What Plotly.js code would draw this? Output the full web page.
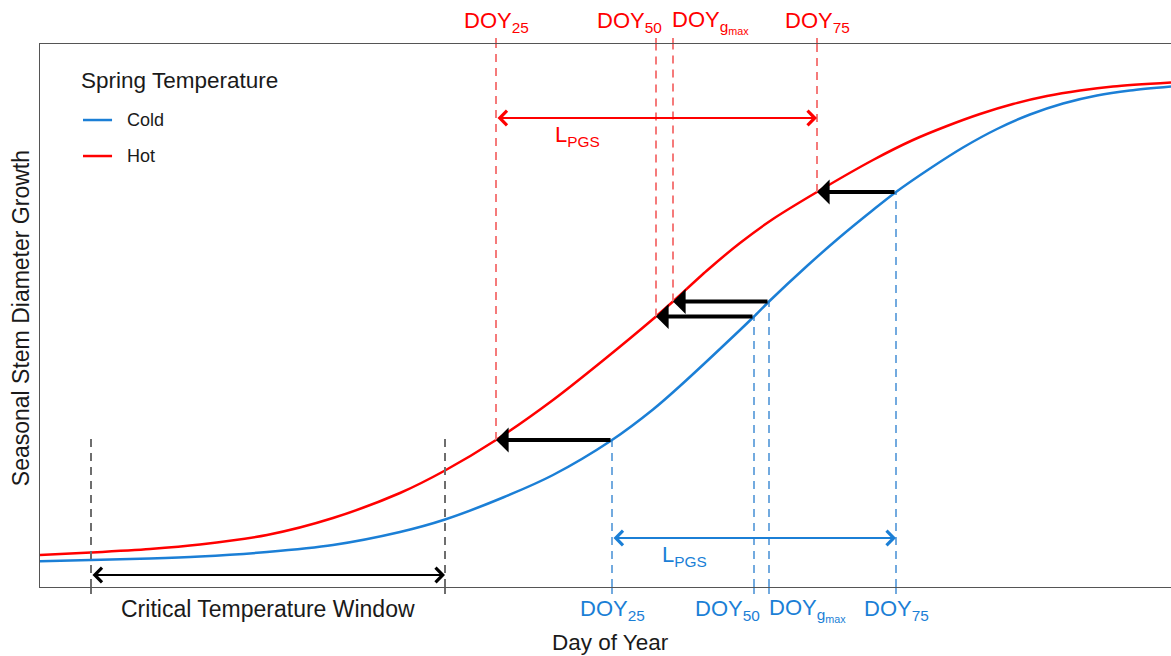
<!DOCTYPE html>
<html><head><meta charset="utf-8">
<script src="https://cdn.plot.ly/plotly-3.0.1.min.js"></script>
<style>html,body{margin:0;padding:0;background:#fff;overflow:hidden}#chart{width:1171px;height:656px}</style>
</head><body><div id="chart"></div>
<script>
// ---- data (arbitrary units) ----
const seriesNames = ['Cold', 'Hot'];
const legendTitle = 'Spring Temperature';
const coldX = [0, 51, 110, 160, 227, 293, 360, 405, 463, 513, 572, 613, 640, 700, 714, 729, 767, 800, 833, 856, 890, 923, 957, 990, 1023, 1057, 1090, 1131];
const coldY = [25.8, 27, 28.5, 30.5, 35, 42, 55, 67.5, 89.5, 112, 147, 177.5, 201, 257, 270.5, 285.5, 321, 350, 377, 395, 418.5, 439.5, 458, 472.5, 483.5, 491.5, 496.5, 500.5];
const hotX = [0, 51, 110, 160, 227, 293, 360, 405, 456, 513, 563, 616, 633, 667, 700, 733, 777, 833, 873, 907, 940, 973, 1007, 1040, 1073, 1131];
const hotY = [32, 34.5, 38, 42.5, 52, 69, 94, 116.5, 147, 187, 226.5, 270.5, 285.5, 316.5, 344, 368, 395, 427, 447, 461, 473, 483, 491, 496.5, 500.5, 504.5];
const doyLabels = ['DOY<sub>25</sub>', 'DOY<sub>50</sub>', 'DOY<sub>g<sub>max</sub></sub>', 'DOY<sub>75</sub>'];
const hotDOY = [456, 616, 633, 777];
const coldDOY = [572, 714, 729, 856];
const doyGrowth = [147, 270.5, 285.5, 395];
const windowX = [51, 405];
const windowTop = 150;
const windowLabel = 'Critical Temperature Window';
const lpgsLabel = 'L<sub>PGS</sub>';

// ---- styles ----
const RED = '#ff0000', BLUE = '#1b7fd6';
const RED_DASH = '#f57a7a', BLUE_DASH = '#72aadf', GRAY = '#6e6e6e';
const FONT = 'Liberation Sans, Arial, Helvetica, sans-serif';
const XMAX = 1131, YMAX = 543;

function vSegments(xs, y0s, y1s) {
  const x = [], y = [];
  xs.forEach((v, i) => { x.push(v, v, null); y.push(y0s[i], y1s[i], null); });
  return {x, y};
}
const redV = vSegments(hotDOY, doyGrowth, hotDOY.map(() => YMAX));
const blueV = vSegments(coldDOY, coldDOY.map(() => 0), doyGrowth);
const grayV = vSegments(windowX, windowX.map(() => 0), windowX.map(() => windowTop));

const traces = [
  {x: redV.x, y: redV.y, xaxis: 'x2', mode: 'lines', line: {color: RED_DASH, width: 2, dash: '8px,6px'}, hoverinfo: 'skip', showlegend: false},
  {x: blueV.x, y: blueV.y, mode: 'lines', line: {color: BLUE_DASH, width: 2, dash: '8px,6px'}, hoverinfo: 'skip', showlegend: false},
  {x: grayV.x, y: grayV.y, xaxis: 'x3', mode: 'lines', line: {color: GRAY, width: 2, dash: '8px,6px'}, hoverinfo: 'skip', showlegend: false},
  {x: coldX, y: coldY, name: seriesNames[0], mode: 'lines', line: {color: BLUE, width: 2.5, shape: 'spline', smoothing: 0.8}, showlegend: false},
  {x: hotX, y: hotY, name: seriesNames[1], mode: 'lines', line: {color: RED, width: 2.5, shape: 'spline', smoothing: 0.8}, showlegend: false}
];

const ann = [];
const shifts = [0, -27, 37, 0];
doyLabels.forEach((t, i) => {
  ann.push({text: t, x: hotDOY[i], xref: 'x', y: 1.04, yref: 'paper', xanchor: 'center', yanchor: 'middle', xshift: shifts[i], showarrow: false, font: {family: FONT, size: 22, color: RED}});
  ann.push({text: t, x: coldDOY[i], xref: 'x', y: -0.042, yref: 'paper', xanchor: 'center', yanchor: 'middle', xshift: shifts[i] + (i === 2 ? 1 : 0), showarrow: false, font: {family: FONT, size: 22, color: BLUE}});
});
// shift arrows (cold -> hot)
doyGrowth.forEach((g, i) => {
  ann.push({text: '', x: hotDOY[i], y: g, xref: 'x', yref: 'y', ax: coldDOY[i], ay: g, axref: 'x', ayref: 'y', showarrow: true, arrowhead: 1, arrowsize: 1.05, arrowwidth: 4, arrowcolor: '#000', standoff: 0});
});
// double arrows
function dbl(x0, x1, y, color) {
  return {text: '', x: x1, y: y, xref: 'x', yref: 'y', ax: x0, ay: y, axref: 'x', ayref: 'y', showarrow: true, arrowside: 'end+start', arrowhead: 4, startarrowhead: 4, arrowsize: 1.4, startarrowsize: 1.4, arrowwidth: 2, arrowcolor: color, standoff: 0, startstandoff: 0};
}
ann.push(dbl(hotDOY[0], hotDOY[3], 469, RED));
ann.push(dbl(coldDOY[0], coldDOY[3], 49, BLUE));
ann.push(dbl(windowX[0], windowX[1], 12, '#000'));
ann.push({text: lpgsLabel, x: 537, y: 451, xref: 'x', yref: 'y', showarrow: false, font: {family: FONT, size: 22, color: RED}});
ann.push({text: lpgsLabel, x: 644, y: 31, xref: 'x', yref: 'y', showarrow: false, font: {family: FONT, size: 22, color: BLUE}});
ann.push({text: windowLabel, x: (windowX[0] + windowX[1]) / 2, xref: 'x', y: -0.04, yref: 'paper', yanchor: 'middle', showarrow: false, font: {family: FONT, size: 23, color: '#1a1a1a'}});
ann.push({text: 'Day of Year', x: 570, xref: 'x', y: -0.103, yref: 'paper', yanchor: 'middle', showarrow: false, font: {family: FONT, size: 22.5, color: '#1a1a1a'}});
ann.push({text: 'Seasonal Stem Diameter Growth', x: -0.0168, xref: 'paper', y: 0.495, yref: 'paper', textangle: -90, xanchor: 'center', yanchor: 'middle', showarrow: false, font: {family: FONT, size: 23, color: '#1a1a1a'}});
// legend
ann.push({text: legendTitle, x: 0.0345, xref: 'paper', y: 0.9337, yref: 'paper', xanchor: 'left', yanchor: 'middle', showarrow: false, font: {family: FONT, size: 22.5, color: '#1a1a1a'}});
ann.push({text: seriesNames[0], x: 0.0755, xref: 'paper', y: 0.860, yref: 'paper', xanchor: 'left', yanchor: 'middle', showarrow: false, font: {family: FONT, size: 18, color: '#1a1a1a'}});
ann.push({text: seriesNames[1], x: 0.0755, xref: 'paper', y: 0.7937, yref: 'paper', xanchor: 'left', yanchor: 'middle', showarrow: false, font: {family: FONT, size: 18, color: '#1a1a1a'}});

const shapes = [
  {type: 'line', xref: 'paper', yref: 'paper', x0: 0.038, x1: 0.0637, y0: 0.860, y1: 0.860, line: {color: BLUE, width: 2.5}},
  {type: 'line', xref: 'paper', yref: 'paper', x0: 0.038, x1: 0.0637, y0: 0.7937, y1: 0.7937, line: {color: RED, width: 2.5}}
];

const axBase = {range: [0, XMAX], showgrid: false, zeroline: false, showticklabels: false, ticks: 'outside', tickwidth: 2, fixedrange: true, tickmode: 'array'};
const layout = {
  width: 1171, height: 656,
  margin: {l: 40, r: 0, t: 44, b: 69, pad: 0},
  paper_bgcolor: '#fff', plot_bgcolor: '#fff',
  showlegend: false,
  xaxis: Object.assign({}, axBase, {showline: true, mirror: true, linecolor: '#555', linewidth: 1, tickvals: coldDOY, tickcolor: BLUE_DASH, ticklen: 6}),
  xaxis2: Object.assign({}, axBase, {overlaying: 'x', side: 'top', showline: false, tickvals: hotDOY, tickcolor: RED_DASH, ticklen: 5}),
  xaxis3: Object.assign({}, axBase, {overlaying: 'x', side: 'bottom', showline: false, tickvals: windowX, tickcolor: GRAY, ticklen: 6}),
  yaxis: {range: [0, YMAX], showgrid: false, zeroline: false, showticklabels: false, ticks: '', showline: true, linecolor: '#555', linewidth: 1, fixedrange: true},
  annotations: ann,
  shapes: shapes
};
Plotly.newPlot('chart', traces, layout, {displayModeBar: false, staticPlot: true});
</script></body></html>
